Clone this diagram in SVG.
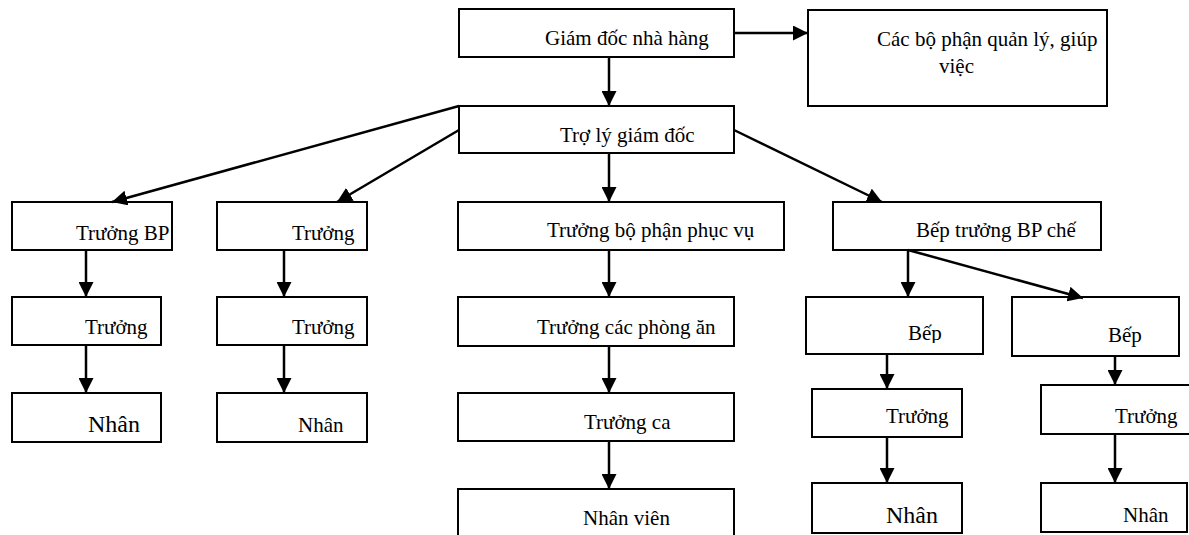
<svg xmlns="http://www.w3.org/2000/svg" width="1189" height="535" viewBox="0 0 1189 535">
<style>
rect.box{fill:#fff;stroke:#000;stroke-width:2}
.conn line{stroke:#000;stroke-width:2.5;marker-end:url(#ah)}
</style>
<defs>
<marker id="ah" viewBox="0 0 15 15" refX="15" refY="7.5" markerWidth="15" markerHeight="15" markerUnits="userSpaceOnUse" orient="auto">
<path d="M0,0 L15,7.5 L0,15 Z" fill="#000"/>
</marker>
<clipPath id="clipBep"><rect x="806" y="297" width="177" height="46"/></clipPath>
</defs>
<rect width="1189" height="535" fill="#fff"/>
<g id="n-gd"><rect class="box" x="459" y="9" width="275" height="48"/><text font-family="Liberation Serif" font-size="21" x="545" y="45">Giám đốc nhà hàng</text></g>
<g id="n-qly"><rect class="box" x="808" y="10" width="299" height="96"/><text font-family="Liberation Serif" font-size="21" x="877" y="46">Các bộ phận quản lý, giúp</text><text font-family="Liberation Serif" font-size="21" x="939" y="73">việc</text></g>
<g id="n-tl"><rect class="box" x="459" y="106" width="275" height="47"/><text font-family="Liberation Serif" font-size="21" x="560" y="142">Trợ lý giám đốc</text></g>
<g id="n-c1a"><rect class="box" x="12" y="202" width="160" height="48"/><text font-family="Liberation Serif" font-size="21" x="76" y="240">Trưởng BP</text></g>
<g id="n-c1b"><rect class="box" x="12" y="297" width="149" height="48"/><text font-family="Liberation Serif" font-size="21" x="85" y="334">Trưởng</text></g>
<g id="n-c1c"><rect class="box" x="12" y="393" width="149" height="49"/><text font-family="Liberation Serif" font-size="24" x="88" y="432">Nhân</text></g>
<g id="n-c2a"><rect class="box" x="217" y="202" width="150" height="48"/><text font-family="Liberation Serif" font-size="21" x="292" y="240">Trưởng</text></g>
<g id="n-c2b"><rect class="box" x="217" y="297" width="150" height="48"/><text font-family="Liberation Serif" font-size="21" x="292" y="334">Trưởng</text></g>
<g id="n-c2c"><rect class="box" x="217" y="393" width="150" height="49"/><text font-family="Liberation Serif" font-size="21" x="298" y="432">Nhân</text></g>
<g id="n-c3a"><rect class="box" x="458" y="202" width="326" height="48"/><text font-family="Liberation Serif" font-size="21" x="547" y="237">Trưởng bộ phận phục vụ</text></g>
<g id="n-c3b"><rect class="box" x="458" y="297" width="276" height="49"/><text font-family="Liberation Serif" font-size="21" x="537" y="334">Trưởng các phòng ăn</text></g>
<g id="n-c3c"><rect class="box" x="458" y="393" width="276" height="48"/><text font-family="Liberation Serif" font-size="21" x="584" y="429">Trưởng ca</text></g>
<g id="n-c3d"><rect class="box" x="458" y="489" width="276" height="60"/><text font-family="Liberation Serif" font-size="21" x="583" y="525">Nhân viên</text></g>
<g id="n-c4"><rect class="box" x="833" y="202" width="268" height="48"/><text font-family="Liberation Serif" font-size="21" x="916" y="237">Bếp trưởng BP chế</text></g>
<g id="n-c4a"><rect class="box" x="806" y="297" width="177" height="57"/><text font-family="Liberation Serif" font-size="21" x="908" y="340" clip-path="url(#clipBep)">Bếp</text></g>
<g id="n-c4b"><rect class="box" x="812" y="389" width="150" height="48"/><text font-family="Liberation Serif" font-size="21" x="886" y="423">Trưởng</text></g>
<g id="n-c4c"><rect class="box" x="812" y="483" width="150" height="50"/><text font-family="Liberation Serif" font-size="24" x="886" y="523">Nhân</text></g>
<g id="n-c5a"><rect class="box" x="1012" y="297" width="167" height="59"/><text font-family="Liberation Serif" font-size="21" x="1108" y="342">Bếp</text></g>
<g id="n-c5b"><rect class="box" x="1041" y="385" width="150" height="49"/><text font-family="Liberation Serif" font-size="21" x="1115" y="423">Trưởng</text></g>
<g id="n-c5c"><rect class="box" x="1041" y="483" width="146" height="49"/><text font-family="Liberation Serif" font-size="21" x="1123" y="522">Nhân</text></g>
<g id="connectors" class="conn">
<line x1="734" y1="33" x2="808" y2="33"/>
<line x1="609" y1="57" x2="609" y2="106"/>
<line x1="459" y1="106" x2="112" y2="202"/>
<line x1="459" y1="130" x2="337" y2="202"/>
<line x1="609" y1="153" x2="609" y2="202"/>
<line x1="734" y1="130" x2="882" y2="202"/>
<line x1="86" y1="250" x2="86" y2="297"/>
<line x1="86" y1="345" x2="86" y2="393"/>
<line x1="284" y1="250" x2="284" y2="297"/>
<line x1="284" y1="345" x2="284" y2="393"/>
<line x1="609" y1="250" x2="609" y2="297"/>
<line x1="609" y1="346" x2="609" y2="393"/>
<line x1="609" y1="441" x2="609" y2="489"/>
<line x1="908" y1="250" x2="908" y2="297"/>
<line x1="908" y1="250" x2="1083" y2="298"/>
<line x1="887" y1="354" x2="887" y2="389"/>
<line x1="887" y1="437" x2="887" y2="483"/>
<line x1="1115" y1="356" x2="1115" y2="385"/>
<line x1="1115" y1="434" x2="1115" y2="483"/>
</g>
</svg>
